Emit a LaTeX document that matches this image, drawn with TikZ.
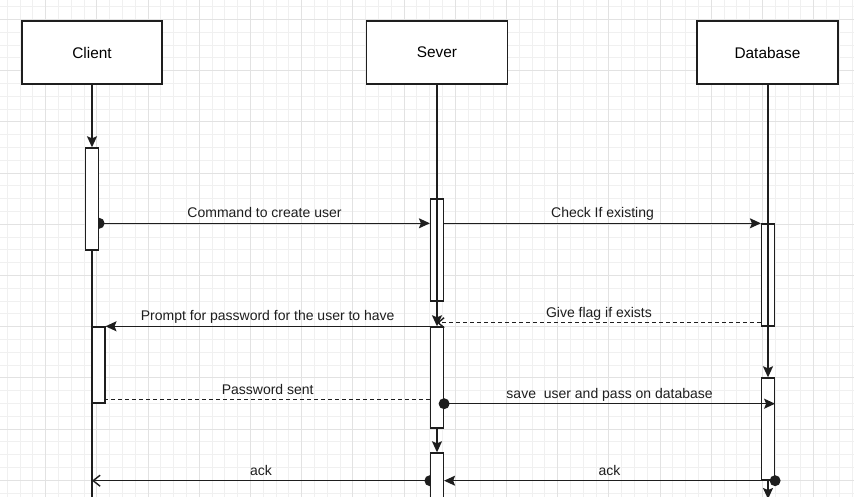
\documentclass[tikz,border=0pt]{standalone}
\usepackage{fontspec}
\setmainfont{Liberation Sans}
\usetikzlibrary{arrows.meta,calc}
\pgfdeclarelayer{gridlayer}
\pgfdeclarelayer{bglayer}
\pgfsetlayers{gridlayer,bglayer,main}
\definecolor{ink}{HTML}{1E1E1E}
\definecolor{gridminor}{HTML}{F0F0F0}
\definecolor{gridmajor}{HTML}{E2E2E2}
\begin{document}
\begin{tikzpicture}[x=1pt,y=-1pt,
  actor/.style={draw=ink, line width=1.4pt, fill=white, minimum width=141pt, minimum height=63pt, font=\fontsize{15.4}{18}\selectfont, inner sep=0},
  bar/.style={draw=ink, line width=1.4pt, fill=white, minimum width=12.8pt, inner sep=0},
  conn/.style={draw=ink, line width=1.4pt},
  solidarrow/.style={conn, -{Stealth[length=11pt,width=10pt,inset=2pt]}},
  openarrow/.style={conn, -{Straight Barb[length=7pt,width=11pt]}},
  dashedline/.style={conn, dash pattern=on 4pt off 3pt},
  lbl/.style={font=\fontsize{14}{16}\selectfont, anchor=base, yshift=5.5pt, inner sep=0, text=ink},
]
\useasboundingbox (0,0) rectangle (854,497);
\begin{pgfonlayer}{gridlayer}
  \fill[white] (0,0) rectangle (854,497);
  \foreach \i in {0,...,66} {
    \draw[gridminor, line width=1pt] ({7.3+12.8*\i},0) -- ({7.3+12.8*\i},497);
  }
  \foreach \j in {0,...,38} {
    \draw[gridminor, line width=1pt] (0,{6.7+12.8*\j}) -- (854,{6.7+12.8*\j});
  }
  \foreach \i in {0,...,16} {
    \draw[gridmajor, line width=1pt] ({45.7+51.2*\i},0) -- ({45.7+51.2*\i},497);
  }
  \foreach \j in {0,...,9} {
    \draw[gridmajor, line width=1pt] (0,{19.5+51.2*\j}) -- (854,{19.5+51.2*\j});
  }
\end{pgfonlayer}
\clip (0,0) rectangle (854,497);

% lifeline heads
\node[actor, minimum width=140pt] (client) at (92,52.5) {Client};
\node[actor] (sever) at (437,52.5) {Sever};
\node[actor] (db) at (767.5,52.5) {Database};

% activation bars
\node[bar, minimum height=102pt] (c1) at (92,199) {};
\node[bar, minimum height=76pt] (c2) at (98.4,365) {};
\node[bar, minimum height=102pt] (s1) at (437,250) {};
\node[bar, minimum height=101pt] (s2) at (437,377.5) {};
\node[bar, minimum height=70pt] (s3) at (437,488) {};
\node[bar, minimum height=102pt] (d1) at (768,275) {};
\node[bar, minimum height=102pt] (d2) at (768,429) {};

\coordinate (cend) at (92,505);
\coordinate (dend) at (768,499);

% lifelines
\draw[solidarrow] (client.south) -- (c1.north);
\draw[conn] (c1.south) -- (cend);
\draw[solidarrow] (sever.south) -- (s2.north);
\draw[solidarrow] (s2.south) -- (s3.north);
\draw[solidarrow] (db.south -| d2.north) -- (d2.north);
\draw[solidarrow] (d2.south) -- (dend);

% half dots under the bars
\begin{pgfonlayer}{bglayer}
  \fill[ink] (c1.east |- d1.north) circle (5.5pt);
  \fill[ink] (s3.west |- d2.south) circle (5.5pt);
\end{pgfonlayer}

% messages
\draw[solidarrow] (c1.east |- d1.north) -- node[lbl]{Command to create user} (s1.west |- d1.north);
\draw[solidarrow] (s1.east |- d1.north) -- node[lbl]{Check If existing} (d1.north west);
\coordinate (gf) at ([yshift=4pt]d1.south west);
\draw[dashedline, -{Straight Barb[length=6pt,width=10pt]}] (gf) -- node[lbl]{Give flag if exists} (gf -| s2.north);
\draw[solidarrow] (s2.north west) -- node[lbl]{Prompt for password for the user to have} (c2.north east);
\coordinate (pw) at ([yshift=4pt]c2.south east);
\draw[dashedline] (pw -| s2.west) -- node[lbl]{Password sent} (pw);
\draw[solidarrow] (s2.east |- c2.south) -- node[lbl]{save~ user and pass on database} (d2.east |- c2.south);
\fill[ink] (s2.east |- c2.south) circle (5.5pt);
\draw[solidarrow] (d2.south east) -- node[lbl]{ack} (s3.east |- d2.south);
\fill[ink] (d2.south east) circle (5.5pt);
\draw[openarrow] (s3.west |- d2.south) -- node[lbl]{ack} (c1.south |- d2.south);
\end{tikzpicture}
\end{document}
